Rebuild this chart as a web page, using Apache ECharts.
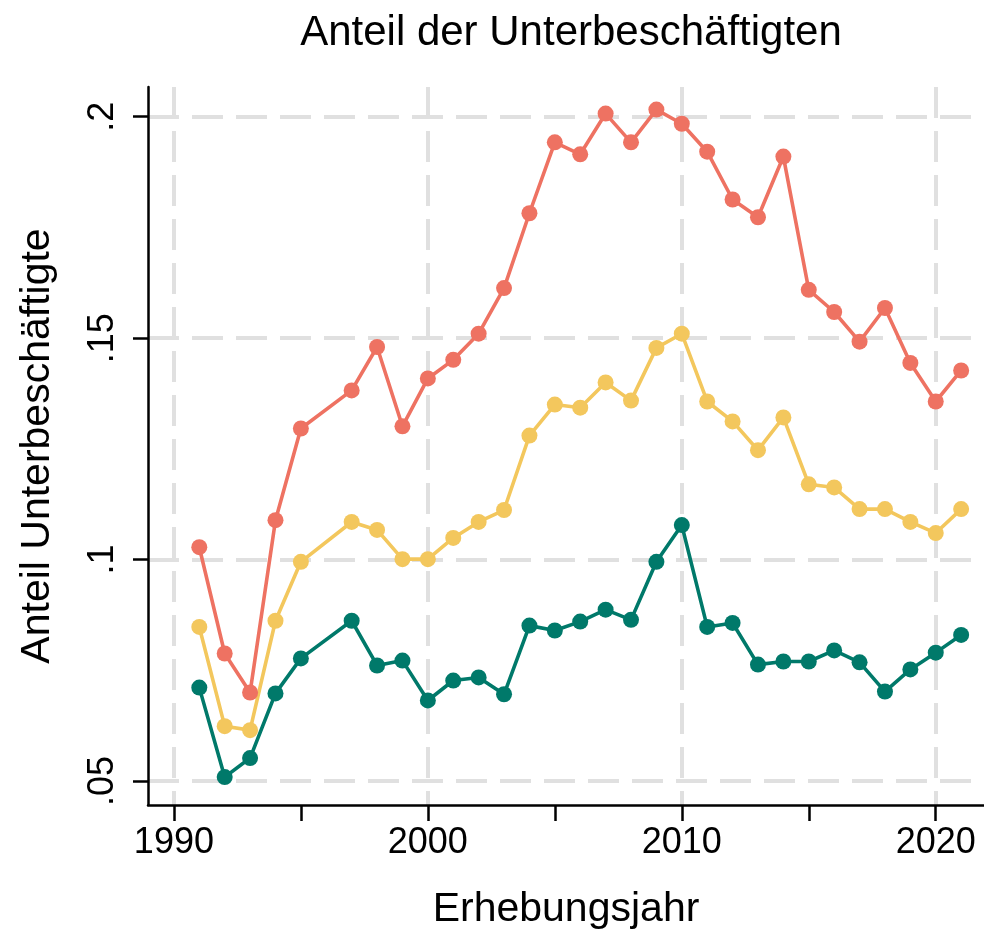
<!DOCTYPE html>
<html>
<head>
<meta charset="utf-8">
<script src="https://cdn.jsdelivr.net/npm/echarts@6/dist/echarts.min.js"></script>
<style>html,body{margin:0;padding:0;background:#fff;}#c{width:984px;height:935px;}</style>
</head>
<body>
<div id="c"></div>
<script>
const years = [1991,1992,1993,1994,1995,1997,1998,1999,2000,2001,2002,2003,2004,2005,2006,2007,2008,2009,2010,2011,2012,2013,2014,2015,2016,2017,2018,2019,2020,2021];
const redValues = [0.1028,0.0788,0.0700,0.1089,0.1296,0.1382,0.1480,0.1301,0.1409,0.1451,0.1510,0.1613,0.1782,0.1942,0.1915,0.2007,0.1942,0.2016,0.1984,0.1921,0.1813,0.1773,0.1910,0.1609,0.1559,0.1492,0.1568,0.1444,0.1357,0.1427];
const yellowValues = [0.0848,0.0624,0.0615,0.0862,0.0995,0.1085,0.1067,0.1001,0.1001,0.1049,0.1085,0.1112,0.1280,0.1350,0.1343,0.1400,0.1359,0.1478,0.1510,0.1357,0.1312,0.1247,0.1321,0.1170,0.1163,0.1114,0.1114,0.1085,0.1060,0.1114];
const greenValues = [0.0711,0.0509,0.0552,0.0698,0.0777,0.0862,0.0761,0.0772,0.0682,0.0727,0.0734,0.0696,0.0851,0.0840,0.0860,0.0887,0.0864,0.0995,0.1078,0.0848,0.0857,0.0763,0.0770,0.0770,0.0795,0.0768,0.0702,0.0752,0.0790,0.0830];
const xMajorTicks = [1990,2000,2010,2020];
const xMinorTicks = [1995,2005,2015];
const yTicks = [0.05,0.1,0.15,0.2];

const font = 'Liberation Sans, Arial, sans-serif';
const gridLine = {show:true, lineStyle:{color:'#e0e0e0', width:4, type:[31,13]}};
function pairs(vals){ return years.map((y,i)=>[y, vals[i]]); }
function mk(name, vals, color){
  return {name, type:'line', data:pairs(vals), xAxisIndex:0, yAxisIndex:0,
    symbol:'circle', symbolSize:16, showSymbol:true,
    lineStyle:{color, width:3.6}, itemStyle:{color}, animation:false};
}
const chart = echarts.init(document.getElementById('c'), null, {renderer:'canvas'});
chart.setOption({
  backgroundColor:'#fff',
  animation:false,
  title:{text:'Anteil der Unterbeschäftigten', left:566, textAlign:'center', top:7,
    textStyle:{fontFamily:font, fontSize:42, fontWeight:'normal', color:'#000'}},
  grid:{left:148, right:0, top:87, bottom:127, containLabel:false},
  xAxis:[{
    type:'value', min:1988.98, max:2021.9, position:'bottom',
    name:'Erhebungsjahr', nameLocation:'middle', nameGap:84,
    nameTextStyle:{fontFamily:font, fontSize:41, color:'#000'},
    axisLine:{show:true, onZero:false, lineStyle:{color:'#000', width:2.5}},
    axisTick:{show:true, length:16, customValues:xMajorTicks, lineStyle:{color:'#000', width:2.5}},
    axisLabel:{show:true, customValues:xMajorTicks, margin:20, fontFamily:font, fontSize:36, color:'#000', formatter:v=>String(v)},
    splitLine:gridLine
  },{
    type:'value', min:1988.98, max:2021.9, position:'bottom',
    axisLine:{show:false},
    axisTick:{show:true, length:16, customValues:xMinorTicks, lineStyle:{color:'#000', width:2.5}},
    axisLabel:{show:false},
    splitLine:{show:false}
  }],
  yAxis:{
    type:'value', min:0.0446, max:0.2067,
    name:'Anteil Unterbeschäftigte', nameLocation:'middle', nameGap:90, nameRotate:90,
    nameTextStyle:{fontFamily:font, fontSize:41, color:'#000'},
    axisLine:{show:true, onZero:false, lineStyle:{color:'#000', width:2.5}},
    axisTick:{show:true, length:15, customValues:yTicks, lineStyle:{color:'#000', width:2.5}},
    axisLabel:{show:true, customValues:yTicks, rotate:90, margin:27, fontFamily:font, fontSize:36, color:'#000',
      formatter:v=>String(+v.toFixed(4)).replace(/^0/, '')},
    splitLine:gridLine
  },
  series:[
    mk('rot', redValues, '#EE7262'),
    mk('gelb', yellowValues, '#F3C75D'),
    mk('grün', greenValues, '#00796A')
  ]
});
</script>
</body>
</html>
